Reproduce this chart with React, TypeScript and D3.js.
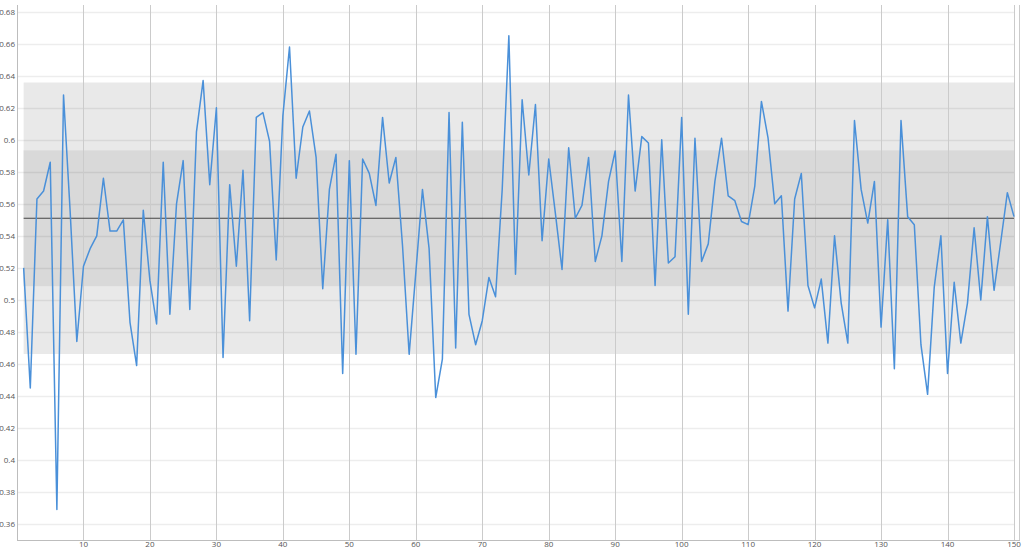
import React from "react";
import * as d3 from "d3";

const values: number[] = [
  0.520, 0.445, 0.563, 0.568, 0.586, 0.369, 0.628, 0.555, 0.474, 0.521,
  0.532, 0.540, 0.576, 0.543, 0.543, 0.550, 0.486, 0.459, 0.556, 0.512,
  0.485, 0.586, 0.491, 0.560, 0.587, 0.494, 0.605, 0.637, 0.572, 0.620,
  0.464, 0.572, 0.521, 0.581, 0.487, 0.614, 0.617, 0.599, 0.525, 0.615,
  0.658, 0.576, 0.608, 0.618, 0.589, 0.507, 0.569, 0.591, 0.454, 0.587,
  0.466, 0.588, 0.579, 0.559, 0.614, 0.573, 0.589, 0.534, 0.466, 0.517,
  0.569, 0.532, 0.439, 0.463, 0.617, 0.470, 0.611, 0.491, 0.472, 0.487,
  0.514, 0.502, 0.569, 0.665, 0.516, 0.625, 0.578, 0.622, 0.537, 0.588,
  0.554, 0.519, 0.595, 0.551, 0.559, 0.589, 0.524, 0.540, 0.574, 0.593,
  0.524, 0.628, 0.568, 0.602, 0.598, 0.509, 0.600, 0.523, 0.527, 0.614,
  0.491, 0.601, 0.524, 0.535, 0.574, 0.601, 0.565, 0.562, 0.549, 0.547,
  0.571, 0.624, 0.601, 0.560, 0.565, 0.493, 0.563, 0.579, 0.509, 0.495,
  0.513, 0.473, 0.540, 0.498, 0.473, 0.612, 0.569, 0.548, 0.574, 0.483,
  0.550, 0.457, 0.612, 0.552, 0.547, 0.472, 0.441, 0.508, 0.540, 0.454,
  0.511, 0.473, 0.498, 0.545, 0.500, 0.552, 0.506, 0.536, 0.567, 0.552,
];
const indices: number[] = values.map((_, i) => i + 1);

const meanValue = 0.551;
const sdValue = 0.0424;

const xTicks: number[] = [10, 20, 30, 40, 50, 60, 70, 80, 90, 100, 110, 120, 130, 140, 150];
const yTicks: number[] = [0.36, 0.38, 0.4, 0.42, 0.44, 0.46, 0.48, 0.5, 0.52, 0.54, 0.56, 0.58, 0.6, 0.62, 0.64, 0.66, 0.68];

const W = 1024;
const H = 550;
const left = 17;
const right = 1014;
const top = 5;
const bottom = 540;

export default function App() {
  const x = d3.scaleLinear().domain([0, 150]).range([left, right]);
  const y = d3.scaleLinear().domain([0.35, 0.6836]).range([bottom, top + 1]);
  const line = d3
    .line<number>()
    .x((_, i) => x(indices[i]))
    .y((d) => y(d));
  const x0 = x(indices[0]);
  const x1 = x(indices[indices.length - 1]);
  const fmt = (v: number) => String(+v.toFixed(2));
  const font = "'Open Sans', 'DejaVu Sans', sans-serif";

  return (
    <svg
      width={W}
      height={H}
      style={{ position: "absolute", left: 0, top: 0, background: "#fff" }}
    >
      {/* bands */}
      <rect x={x0} width={x1 - x0} y={y(meanValue + 2 * sdValue)} height={y(meanValue - 2 * sdValue) - y(meanValue + 2 * sdValue)} fill="#e9e9e9" />
      <rect x={x0} width={x1 - x0} y={y(meanValue + sdValue)} height={y(meanValue - sdValue) - y(meanValue + sdValue)} fill="#d9d9d9" />
      {/* horizontal grid */}
      {yTicks.map((t) => (
        <line key={"hy" + t} x1={left} x2={right} y1={Math.round(y(t)) + 0.5} y2={Math.round(y(t)) + 0.5} stroke="#000" strokeOpacity={0.07} strokeWidth={1.5} />
      ))}
      {/* vertical grid */}
      {xTicks.map((t) => (
        <line key={"vx" + t} x1={Math.round(x(t)) + 0.5} x2={Math.round(x(t)) + 0.5} y1={top} y2={bottom} stroke="#cbcbcb" strokeWidth={1} />
      ))}
      <line x1={1019.5} x2={1019.5} y1={top} y2={bottom} stroke="#cbcbcb" strokeWidth={1} />
      {/* axes */}
      <line x1={left + 0.5} x2={left + 0.5} y1={top} y2={bottom} stroke="#bdbdbd" strokeWidth={1} />
      <line x1={left} x2={1020} y1={bottom + 0.5} y2={bottom + 0.5} stroke="#bdbdbd" strokeWidth={1} />
      {/* mean line */}
      <line x1={x0} x2={x1} y1={y(meanValue)} y2={y(meanValue)} stroke="#444" strokeWidth={1.2} />
      {/* data */}
      <path d={line(values) || ""} fill="none" stroke="#4a90d9" strokeWidth={1.5} strokeLinejoin="round" />
      {/* y labels */}
      {yTicks.map((t) => (
        <text key={"ly" + t} x={15} y={y(t)} dy="0.35em" textAnchor="end" fontSize={8} fill="#555" fontFamily={font}>
          {fmt(t)}
        </text>
      ))}
      {/* x labels */}
      {xTicks.map((t) => (
        <text key={"lx" + t} x={x(t)} y={544.5} dy="0.35em" textAnchor="middle" fontSize={8} fill="#555" fontFamily={font}>
          {t}
        </text>
      ))}
    </svg>
  );
}
